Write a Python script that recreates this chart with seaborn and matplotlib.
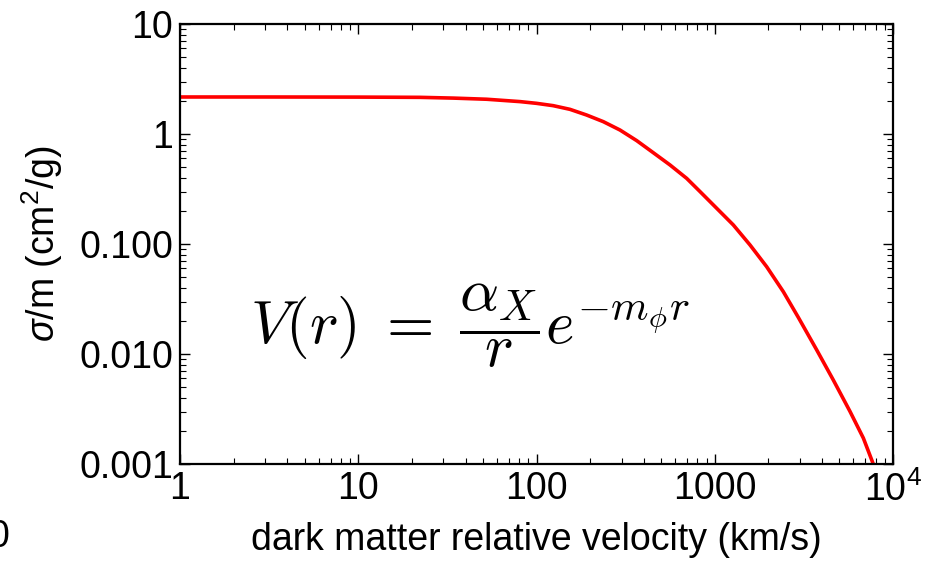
import numpy as np
import pandas as pd
import matplotlib
matplotlib.use("Agg")
import matplotlib.pyplot as plt
import matplotlib.ticker as mticker
import seaborn as sns

# Data
velocity = [1, 3, 10, 22.2, 34.2, 52.5, 80.8, 100, 124, 154, 191, 237, 294, 365, 452,
            561, 696, 826, 1026, 1271, 1577, 1955, 2426, 2944, 3731, 4625, 5741, 6818, 7750]
sigma_m = [2.17, 2.17, 2.165, 2.154, 2.12, 2.07, 1.97, 1.90, 1.81, 1.676, 1.488, 1.295,
           1.087, 0.870, 0.676, 0.523, 0.395, 0.300, 0.211, 0.149, 0.098, 0.0622, 0.0368,
           0.0215, 0.0109, 0.0058, 0.0030, 0.00172, 0.001]
x_ticks = [1, 10, 100, 1000, 10000]
x_tick_labels = ["1", "10", "100", "1000", r"10$^4$"]
y_ticks = [0.001, 0.01, 0.1, 1, 10]
y_tick_labels = ["0.001", "0.010", "0.100", "1", "10"]

sns.set_style("ticks")
plt.rcParams["font.family"] = ["Liberation Sans", "DejaVu Sans"]
plt.rcParams["mathtext.fontset"] = "custom"
plt.rcParams["mathtext.rm"] = "Liberation Sans"
plt.rcParams["mathtext.it"] = "Liberation Sans:italic"
plt.rcParams["mathtext.bf"] = "Liberation Sans:bold"
plt.rcParams["text.color"] = "black"
plt.rcParams["axes.labelcolor"] = "black"

df = pd.DataFrame({"v": velocity, "s": sigma_m})

fig = plt.figure(figsize=(9.35, 5.72), dpi=100)
ax = fig.add_axes([180 / 935, 1 - 464 / 572, (893 - 180) / 935, (464 - 24) / 572])

sns.lineplot(data=df, x="v", y="s", ax=ax, color="#ff0000", linewidth=2.6)

ax.set_xscale("log")
ax.set_yscale("log")
ax.set_xlim(1, 1e4)
ax.set_ylim(1e-3, 10)

ax.xaxis.set_major_locator(mticker.FixedLocator(x_ticks))
ax.xaxis.set_major_formatter(mticker.FixedFormatter(x_tick_labels))
ax.yaxis.set_major_locator(mticker.FixedLocator(y_ticks))
ax.yaxis.set_major_formatter(mticker.FixedFormatter(y_tick_labels))
ax.xaxis.set_minor_locator(mticker.LogLocator(base=10, subs=np.arange(2, 10), numticks=20))
ax.yaxis.set_minor_locator(mticker.LogLocator(base=10, subs=np.arange(2, 10), numticks=20))
ax.xaxis.set_minor_formatter(mticker.NullFormatter())
ax.yaxis.set_minor_formatter(mticker.NullFormatter())

ax.tick_params(which="both", direction="in", top=True, right=True, colors="black",
               labelcolor="black", labelsize=27)
ax.tick_params(which="major", length=7, width=1.0, pad=5)
ax.tick_params(which="minor", length=4, width=0.8)
for sp in ax.spines.values():
    sp.set_linewidth(1.6)
    sp.set_color("black")

ax.set_xlabel("dark matter relative velocity (km/s)", fontsize=27, labelpad=10, color="black")
ax.set_ylabel(r"$\sigma$/m (cm$^2$/g)", fontsize=27, labelpad=10, color="black")

fig.text(250 / 935, 1 - 326 / 572,
         r"$V(r)\;=\;\dfrac{\alpha_X}{r}e^{-m_\phi r}$",
         fontsize=44, math_fontfamily="cm", ha="left", va="center", color="black")

# cropped glyph fragment at the lower-left edge
fig.text(9 / 935, 1 - 537 / 572, "0", fontsize=27, ha="right", va="center", color="black")

fig.savefig("out.png", dpi=100)
